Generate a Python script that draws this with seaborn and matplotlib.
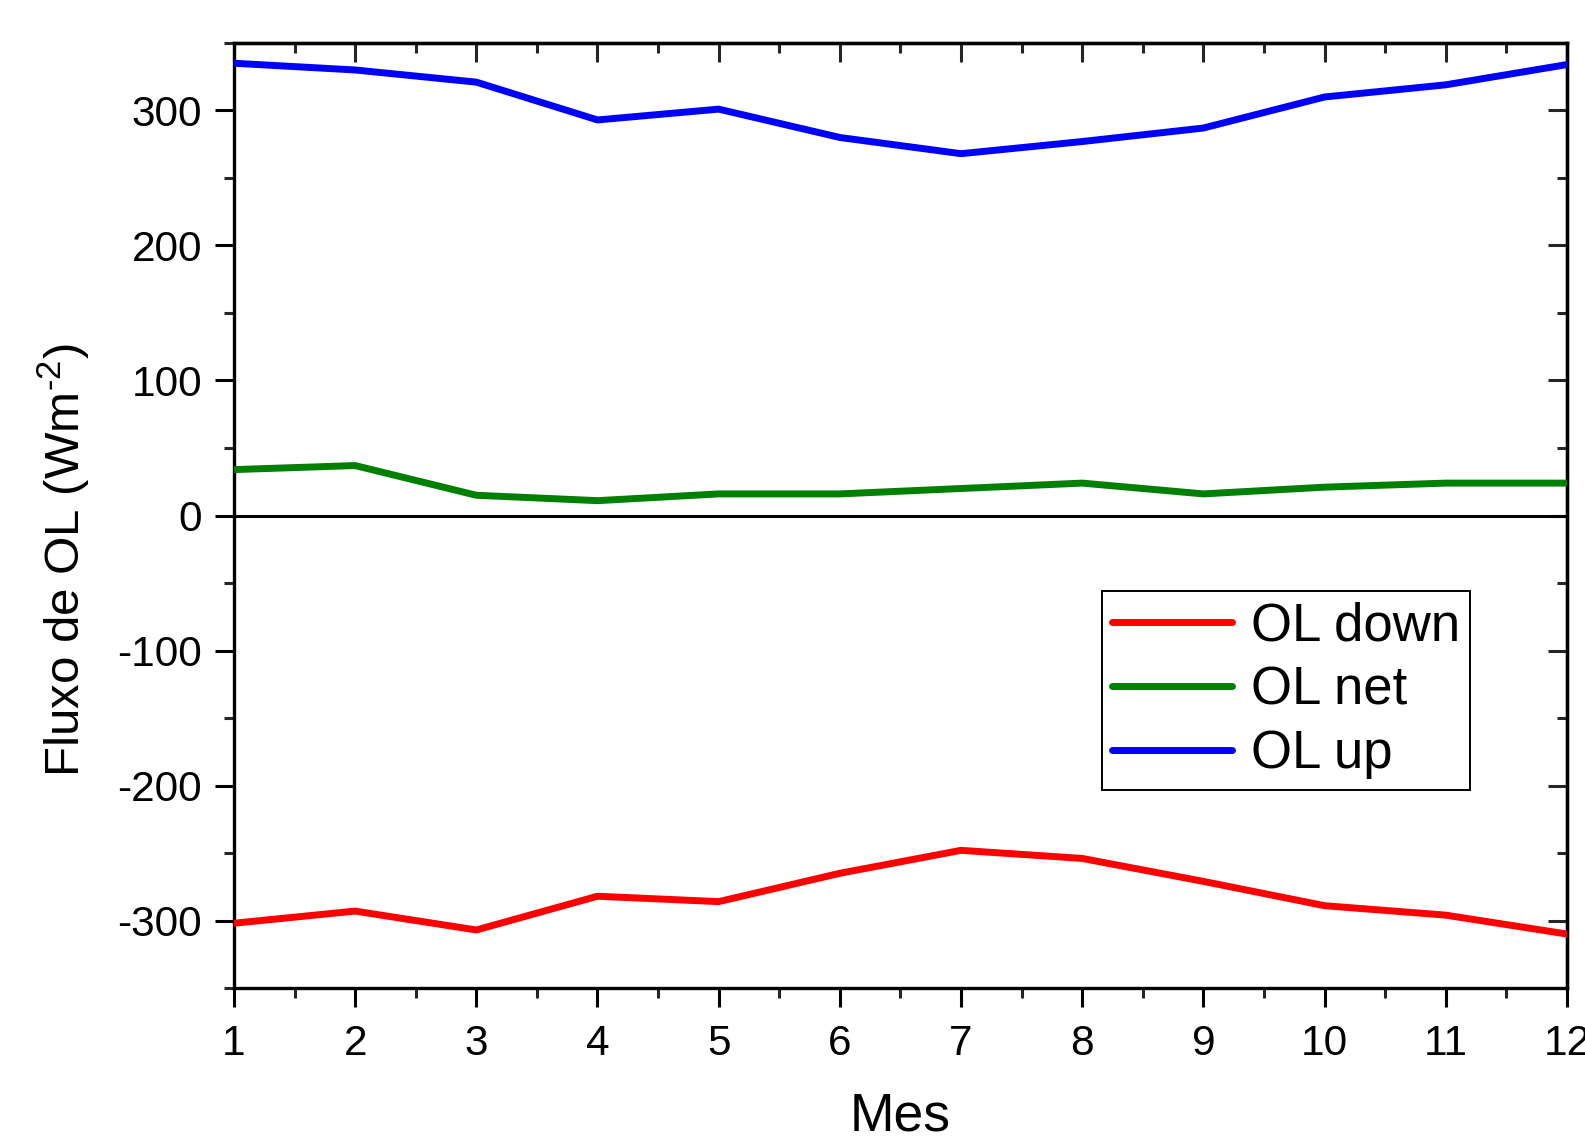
import matplotlib
matplotlib.use('Agg')
from matplotlib import pyplot as plt
from matplotlib.ticker import MultipleLocator
import seaborn as sns
import pandas as pd

meses = [1, 2, 3, 4, 5, 6, 7, 8, 9, 10, 11, 12]
ol_up = [335, 330, 321, 293, 301, 280, 268, 277, 287, 310, 319, 334]
ol_net = [34, 37, 15, 11, 16, 16, 20, 24, 16, 21, 24, 24]
ol_down = [-302, -293, -307, -282, -286, -265, -248, -254, -271, -289, -296, -310]

series_names = ['OL down', 'OL net', 'OL up']
series_colors = ['#ff0000', '#008000', '#0000ff']

sns.set_style('ticks')
plt.rcParams['font.family'] = ['Liberation Sans', 'DejaVu Sans']
plt.rcParams['mathtext.fontset'] = 'custom'
plt.rcParams['mathtext.rm'] = 'Liberation Sans'
plt.rcParams['mathtext.it'] = 'Liberation Sans'
plt.rcParams['axes.unicode_minus'] = False
plt.rcParams['text.color'] = 'black'
plt.rcParams['axes.labelcolor'] = 'black'

df = pd.DataFrame({
    'Mes': meses * 3,
    'valor': ol_down + ol_net + ol_up,
    'serie': ['OL down'] * 12 + ['OL net'] * 12 + ['OL up'] * 12,
})

fig, ax = plt.subplots(figsize=(15.85, 11.4), dpi=100)
fig.subplots_adjust(left=0.1476, right=0.9886, top=0.9623, bottom=0.1333)

sns.lineplot(data=df, x='Mes', y='valor', hue='serie', hue_order=series_names,
             palette=series_colors, linewidth=5, ax=ax, zorder=3)
ax.axhline(0, color='black', linewidth=2.2, zorder=2)

ax.set_xlim(1, 12)
ax.set_ylim(-350, 350)
ax.xaxis.set_major_locator(MultipleLocator(1))
ax.xaxis.set_minor_locator(MultipleLocator(0.5))
ax.yaxis.set_major_locator(MultipleLocator(100))
ax.yaxis.set_minor_locator(MultipleLocator(50))

for side in ax.spines.values():
    side.set_linewidth(2.4)
    side.set_color('black')
    side.set_visible(True)

ax.tick_params(which='major', direction='out', length=14, width=2.2, labelsize=30.5,
               pad=9, colors='black', labelcolor='black')
ax.tick_params(axis='x', which='major', pad=12)
ax.tick_params(which='minor', direction='out', length=7, width=2.2)

sec_x = ax.secondary_xaxis('top')
sec_x.xaxis.set_major_locator(MultipleLocator(1))
sec_x.xaxis.set_minor_locator(MultipleLocator(0.5))
sec_x.tick_params(which='major', direction='in', length=14, width=2.2, labeltop=False)
sec_x.tick_params(which='minor', direction='in', length=7, width=2.2)
sec_x.spines['top'].set_linewidth(2.4)

sec_y = ax.secondary_yaxis('right')
sec_y.yaxis.set_major_locator(MultipleLocator(100))
sec_y.yaxis.set_minor_locator(MultipleLocator(50))
sec_y.tick_params(which='major', direction='in', length=14, width=2.2, labelright=False)
sec_y.tick_params(which='minor', direction='in', length=7, width=2.2)
sec_y.spines['right'].set_linewidth(2.4)

ax.set_xlabel('Mes', fontsize=38.5, labelpad=20)
ax.set_ylabel('Fluxo de OL (Wm$^{\\text{-2}}$)', fontsize=35.5, labelpad=18)
ax.yaxis.label.set_y(0.453)

leg = ax.legend(loc='upper left', bbox_to_anchor=(0.651, 0.42), fontsize=38,
                frameon=True, fancybox=False, edgecolor='black', framealpha=1,
                handlelength=2.27, handletextpad=0.35, borderpad=0.2, labelspacing=0.26,
                borderaxespad=0)
leg.get_frame().set_linewidth(1.4)
for line in leg.get_lines():
    line.set_linewidth(5)

fig.savefig('out.png', dpi=100)
